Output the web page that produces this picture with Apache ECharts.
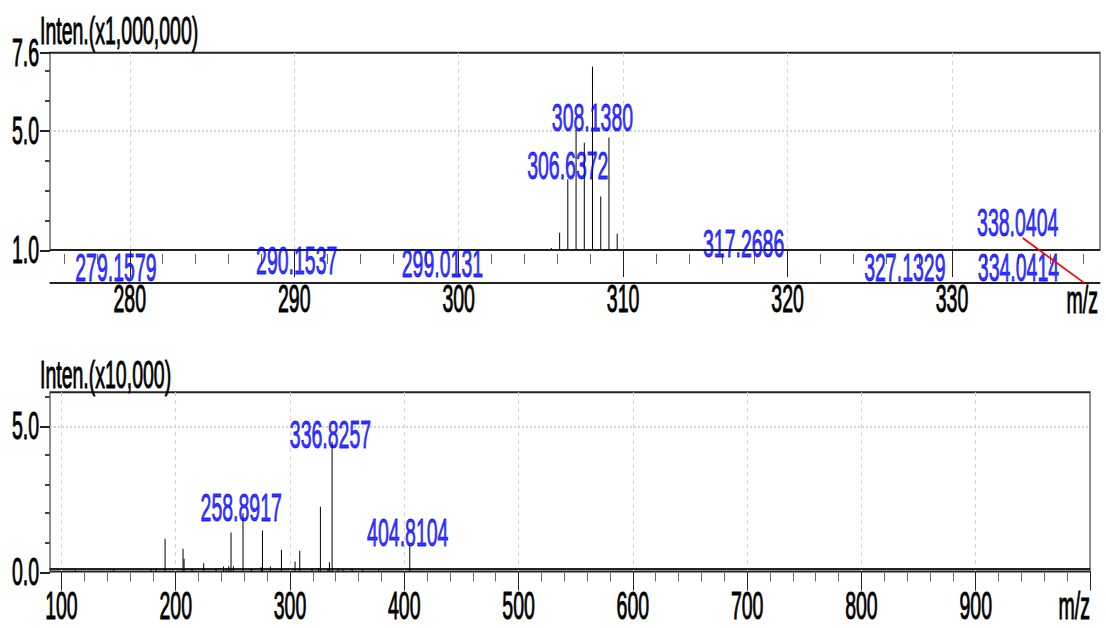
<!DOCTYPE html>
<html>
<head>
<meta charset="utf-8">
<script src="https://cdn.jsdelivr.net/npm/echarts@6/dist/echarts.min.js"></script>
<style>
  html { overflow: hidden; }
  html, body { margin: 0; padding: 0; background: #fff; width: 1106px; height: 628px; }
  /* the source picture is stretched 2x vertically, so draw at half height and stretch */
  #main { width: 1106px; height: 314px; transform: scaleY(2); transform-origin: 0 0; }
</style>
</head>
<body>
<div id="main"></div>
<script>
// upper spectrum, intensity in units of 1,000,000
var topMz = [279.1579, 290.1537, 299.0131, 305.64, 306.14, 306.6372, 307.14, 307.64,
  308.1380, 308.64, 309.14, 309.64, 317.2686, 327.1329, 334.0414, 338.0404];
var topInten = [1.01, 1.01, 1.01, 1.07, 1.58, 3.37, 5.02, 4.59,
  7.14, 2.79, 4.76, 1.54, 1.01, 1.01, 1.01, 1.01];
var topLabelMz = [279.1579, 290.1537, 299.0131, 306.6372, 308.1380, 317.2686, 327.1329, 334.0414, 338.0404];

// lower spectrum, intensity in units of 10,000
var botMz = [112.2, 145.8, 178.4, 182.8, 190.7, 206.4, 207.3, 214.3, 224.5, 235.3, 241.8, 244.0,
  246.4, 248.4, 250.5, 258.8917, 266.2, 274.8, 275.9, 282.9, 292.5, 304.4, 308.5, 319.3,
  325.1, 326.6, 333.3, 334.5, 336.8257, 342.0, 346.4, 354.3, 363.6, 377.6, 404.8104];
var botInten = [0.05, 0.06, 0.08, 0.1, 1.12, 0.78, 0.44, 0.1, 0.28, 0.1, 0.17, 0.1,
  0.18, 1.34, 0.18, 2.0, 0.1, 0.15, 1.41, 0.17, 0.74, 0.34, 0.71, 0.1,
  0.12, 2.22, 0.1, 0.32, 4.45, 0.1, 0.08, 0.08, 0.06, 0.06, 0.91];
var botLabelMz = [258.8917, 336.8257, 404.8104];

// ticks
var topMinorTicks = [276, 278, 282, 284, 286, 288, 292, 294, 296, 298, 302, 304, 306, 308,
  312, 314, 316, 318, 322, 324, 326, 328, 332, 334, 336, 338];
var topMajorTicks = [280, 290, 300, 310, 320, 330];
var topYTicks = [2, 3, 4, 6, 7];
var topYLabels = [1.0, 5.0, 7.6];
var topYGrid = [5.0];
var botMinorTicks = [120, 140, 160, 180, 220, 240, 260, 280, 320, 340, 360, 380,
  420, 440, 460, 480, 520, 540, 560, 580, 620, 640, 660, 680,
  720, 740, 760, 780, 820, 840, 860, 880, 920, 940, 960, 980];
var botMajorTicks = [100, 200, 300, 400, 500, 600, 700, 800, 900, 1000];
var botXLabels = [100, 200, 300, 400, 500, 600, 700, 800, 900];
var botYTicks = [1, 2, 3, 4, 6];
var botYLabels = [0.0, 5.0];
var botYGrid = [5.0];

var font = "'Liberation Sans', Arial, sans-serif";
var fs = 19.5;

// label nudges in px (half-height space)
var topLabelOffset = [[0, 8.9], [0, 5.6], [0, 7.1], [0, -6.6], [0, 25.4], [1, -2.9], [0, 8.9], [0, 8.9], [-66.5, -13.6]];
var botLabelOffset = [[-1.8, -2.7], [-1.6, -3.4], [-2, -6]];

function pairs(xs, ys) {
  return xs.map(function (x, i) { return [x, ys[i]]; });
}
function labelData(labels, xs, ys, offsets) {
  return labels.map(function (m, i) {
    return { value: [m, ys[xs.indexOf(m)]], label: { offset: offsets[i] } };
  });
}

function xAx(gi, min, max, extra) {
  return Object.assign({
    type: 'value', gridIndex: gi, min: min, max: max, position: 'bottom',
    axisLine: { show: false, onZero: false },
    axisTick: { show: false },
    axisLabel: { show: false },
    splitLine: { show: false }
  }, extra);
}
function yAx(gi, min, max, extra) {
  return Object.assign({
    type: 'value', gridIndex: gi, min: min, max: max, position: 'left',
    axisLine: { show: false, onZero: false },
    axisTick: { show: false },
    axisLabel: { show: false },
    splitLine: { show: false }
  }, extra);
}
var gridLine = { show: true, lineStyle: { color: '#d2d2d2', width: 1, type: [2, 2] } };
var tickLabel = { show: true, color: '#000', fontSize: fs, fontFamily: font,
  textBorderColor: '#000', textBorderWidth: 0.5 };
var peakLabel = {
  show: true, position: 'inside', color: '#0000ff', fontSize: fs, fontFamily: font,
  textBorderColor: '#0000ff', textBorderWidth: 0.5,
  formatter: function (p) { return p.value[0].toFixed(4); }
};
var titleText = { fontSize: fs, fontWeight: 'normal', color: '#000', fontFamily: font,
  textBorderColor: '#000', textBorderWidth: 0.5 };

var chart = echarts.init(document.getElementById('main'), null, { renderer: 'svg' });

var option = {
  animation: false,
  textStyle: { fontFamily: font },
  title: [
    { text: 'Inten.(x1,000,000)', left: 40, top: 5.6, padding: 0, textStyle: titleText },
    { text: 'Inten.(x10,000)', left: 40, top: 177.3, padding: 0, textStyle: titleText }
  ],
  grid: [
    { left: 50, right: 6, top: 26.35, height: 98.65, outerBoundsMode: 'none',
      show: true, borderColor: '#222', borderWidth: 1 },
    { left: 50, right: 16, top: 196.15, height: 89.6, outerBoundsMode: 'none',
      show: true, borderColor: '#222', borderWidth: 1 }
  ],
  xAxis: [
    // upper panel
    xAx(0, 275.15, 339, { offset: 2,
      axisTick: { show: true, customValues: topMinorTicks, length: 5, lineStyle: { color: '#666' } } }),
    xAx(0, 275.15, 339, {
      axisTick: { show: true, customValues: topMajorTicks, length: 13.5, lineStyle: { color: '#222' } },
      splitLine: gridLine }),
    xAx(0, 275.15, 339, { offset: 16.5,
      axisLine: { show: true, onZero: false, lineStyle: { color: '#222', width: 1 } },
      axisLabel: Object.assign({ customValues: topMajorTicks, margin: -2 }, tickLabel),
      name: 'm/z', nameLocation: 'end', nameGap: -2,
      nameTextStyle: { align: 'right', verticalAlign: 'top', lineHeight: 17,
        color: '#000', fontSize: fs, fontFamily: font, textBorderColor: '#000', textBorderWidth: 0.5 } }),
    // lower panel
    xAx(1, 90, 1000, {
      axisTick: { show: true, customValues: botMinorTicks, length: 5, lineStyle: { color: '#666' } } }),
    xAx(1, 90, 1000, {
      axisTick: { show: true, customValues: botMajorTicks, length: 9.5, lineStyle: { color: '#222' } } }),
    xAx(1, 90, 1000, {
      axisTick: { show: false, customValues: botXLabels },
      axisLabel: Object.assign({ customValues: botXLabels, margin: 9.35, lineHeight: 16 }, tickLabel),
      splitLine: gridLine }),
    // axis title, right-aligned at the end of the lower m/z axis
    xAx(1, 90, 1000, {
      axisLabel: Object.assign({ customValues: [1000], margin: 9.35, lineHeight: 16, align: 'right',
        formatter: function () { return 'm/z'; } }, tickLabel) }),
    xAx(1, 90, 1000, { offset: -1.75,
      axisLine: { show: true, onZero: false, lineStyle: { color: '#222', width: 1 } } })
  ],
  yAxis: [
    // upper panel
    yAx(0, 1, 7.6, {
      axisTick: { show: true, customValues: topYTicks, length: 5, lineStyle: { color: '#444' } } }),
    yAx(0, 1, 7.6, {
      axisTick: { show: true, customValues: topYLabels, length: 10, lineStyle: { color: '#222' } },
      axisLabel: Object.assign({ customValues: topYLabels, margin: 11,
        formatter: function (v) { return v.toFixed(1); } }, tickLabel) }),
    yAx(0, 1, 7.6, {
      axisTick: { show: false, customValues: topYGrid },
      splitLine: gridLine }),
    // lower panel
    yAx(1, 0, 6.15, {
      axisTick: { show: true, customValues: botYTicks, length: 5, lineStyle: { color: '#444' } } }),
    yAx(1, 0, 6.15, {
      axisTick: { show: true, customValues: botYLabels, length: 10, lineStyle: { color: '#222' } },
      axisLabel: Object.assign({ customValues: botYLabels, margin: 11,
        formatter: function (v) { return v.toFixed(1); } }, tickLabel) }),
    yAx(1, 0, 6.15, {
      axisTick: { show: false, customValues: botYGrid },
      splitLine: gridLine })
  ],
  series: [
    {
      type: 'bar', xAxisIndex: 1, yAxisIndex: 0, barWidth: 1, silent: true,
      itemStyle: { color: '#000' },
      data: pairs(topMz, topInten)
    },
    {
      type: 'scatter', xAxisIndex: 1, yAxisIndex: 0, symbolSize: 0, clip: false, silent: true,
      label: peakLabel,
      data: labelData(topLabelMz, topMz, topInten, topLabelOffset)
    },
    {
      // leader from the 338.0404 label down to its position on the m/z axis
      type: 'line', xAxisIndex: 1, yAxisIndex: 0, symbol: 'none', clip: false, silent: true,
      lineStyle: { color: '#ff0000', width: 1 },
      data: [[338.0404, -0.1], [334.3, 1.4]]
    },
    {
      type: 'bar', xAxisIndex: 4, yAxisIndex: 3, barWidth: 1, silent: true,
      itemStyle: { color: '#000' },
      data: pairs(botMz, botInten)
    },
    {
      type: 'scatter', xAxisIndex: 4, yAxisIndex: 3, symbolSize: 0, clip: false, silent: true,
      label: peakLabel,
      data: labelData(botLabelMz, botMz, botInten, botLabelOffset)
    }
  ]
};

chart.setOption(option);
</script>
</body>
</html>
